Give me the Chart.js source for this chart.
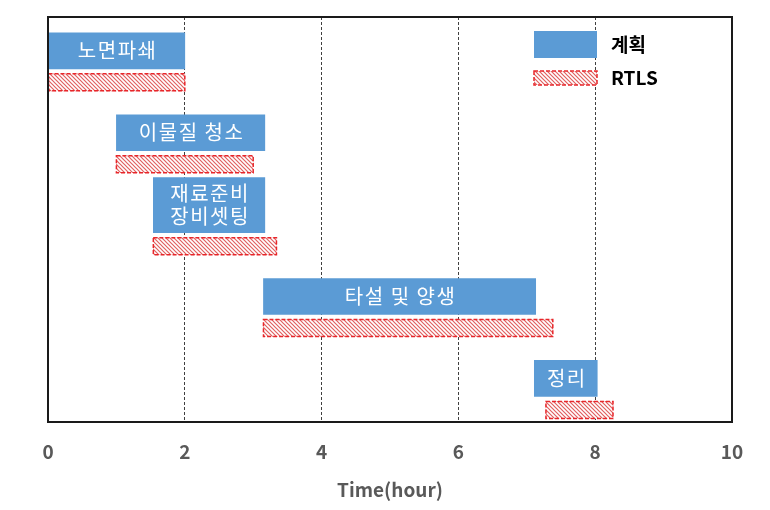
<!DOCTYPE html>
<html><head><meta charset="utf-8">
<script src="https://cdn.jsdelivr.net/npm/chart.js@4/dist/chart.umd.min.js"></script>
<style>html,body{margin:0;padding:0;background:#fff}</style>
</head><body>
<canvas id="c" width="770" height="510"></canvas>
<script>
// ---- data ----
const categories = ['노면파쇄', '이물질 청소', ['재료준비', '장비셋팅'], '타설 및 양생', '정리'];
const planStart = [0, 1, 1.54, 3.15, 7.11];
const planEnd   = [2, 3.17, 3.17, 7.13, 8.03];
const rtlsStart = [0, 1, 1.54, 3.15, 7.28];
const rtlsEnd   = [2, 3.0, 3.34, 7.38, 8.26];
const xMin = 0, xMax = 10, xStep = 2;
const legendLabels = ['계획', 'RTLS'];
const axisTitle = 'Time(hour)';

// ---- styles ----
const FONT = "'Noto Sans CJK KR', 'Noto Sans', sans-serif";
const BLUE = '#5B9BD5';
const RED = '#E8262A';

const canvas = document.getElementById('c');
const ctx0 = canvas.getContext('2d');
function makeHatch(ctx) {
  const c = document.createElement('canvas'); c.width = 4; c.height = 4;
  const g = c.getContext('2d');
  g.fillStyle = '#fff'; g.fillRect(0, 0, 4, 4);
  g.strokeStyle = '#E06060'; g.lineWidth = 1.2;
  g.beginPath();
  g.moveTo(-1, -1); g.lineTo(5, 5);
  g.moveTo(-1, 3); g.lineTo(1, 5);
  g.moveTo(3, -1); g.lineTo(5, 1);
  g.stroke();
  return ctx.createPattern(c, 'repeat');
}
const hatch = makeHatch(ctx0);

const isTall = categories.map(c => Array.isArray(c));
const planData = categories.map((c, i) => ({ y: i, x: isTall[i] ? null : [planStart[i], planEnd[i]] }));
const tallData = categories.map((c, i) => ({ y: i, x: isTall[i] ? [planStart[i], planEnd[i]] : null }));
const rtlsData = categories.map((c, i) => ({ y: i, x: [rtlsStart[i], rtlsEnd[i]] }));

function drawBox(ctx, x, y, w, h, fill, dashed) {
  ctx.save();
  ctx.fillStyle = fill;
  ctx.fillRect(x, y, w, h);
  if (dashed) {
    ctx.setLineDash([4, 2]);
    ctx.lineWidth = 1.5;
    ctx.strokeStyle = RED;
    ctx.strokeRect(x, y, w, h);
  }
  ctx.restore();
}

const decorPlugin = {
  id: 'decor',
  afterDatasetsDraw(chart) {
    const ctx = chart.ctx;
    // dashed outlines for RTLS bars
    const rm = chart.getDatasetMeta(2);
    ctx.save();
    ctx.setLineDash([4, 2]);
    ctx.lineWidth = 1.5;
    ctx.strokeStyle = RED;
    rm.data.forEach((el) => {
      const p = el.getProps(['x', 'y', 'base', 'height'], true);
      if (p.x === p.base) return;
      ctx.strokeRect(Math.min(p.x, p.base), p.y - p.height / 2, Math.abs(p.x - p.base), p.height);
    });
    ctx.restore();
    // labels in plan bars
    ctx.save();
    ctx.fillStyle = '#fff';
    ctx.font = '20px ' + FONT;
    try { ctx.letterSpacing = '1.5px'; } catch (e) {}
    ctx.textAlign = 'center';
    ctx.textBaseline = 'middle';
    [0, 1].forEach(di => {
      chart.getDatasetMeta(di).data.forEach((el, i) => {
        const p = el.getProps(['x', 'y', 'base'], true);
        if (p.x === p.base) return;
        const lines = Array.isArray(categories[i]) ? categories[i] : [categories[i]];
        const lh = 23;
        const cx = (p.x + p.base) / 2 + 1;
        lines.forEach((t, k) => {
          ctx.fillText(t, cx, p.y + (k - (lines.length - 1) / 2) * lh);
        });
      });
    });
    ctx.restore();
  },
  afterDraw(chart) {
    const ctx = chart.ctx;
    const a = chart.chartArea;
    ctx.save();
    ctx.strokeStyle = '#1a1a1a';
    ctx.lineWidth = 2;
    ctx.strokeRect(a.left, a.top, a.right - a.left, a.bottom - a.top);
    ctx.restore();
    // legend
    const lx = a.right - 198, ly = a.top + 14;
    drawBox(ctx, lx, ly, 63, 27, BLUE, false);
    drawBox(ctx, lx, ly + 40, 63, 14, hatch, true);
    ctx.save();
    ctx.fillStyle = '#000';
    ctx.font = 'bold 19px ' + FONT;
    ctx.textAlign = 'left';
    ctx.textBaseline = 'middle';
    ctx.fillText(legendLabels[0], lx + 77, ly + 14);
    ctx.fillText(legendLabels[1], lx + 77, ly + 47);
    ctx.restore();
  }
};

new Chart(canvas, {
  type: 'bar',
  data: {
    datasets: [
      { label: legendLabels[0], data: planData, backgroundColor: BLUE, barThickness: 46, maxBarThickness: 36, skipNull: true },
      { label: legendLabels[0], data: tallData, backgroundColor: BLUE, barThickness: 65, maxBarThickness: 55, skipNull: true },
      { label: legendLabels[1], data: rtlsData, backgroundColor: hatch, barThickness: 17, skipNull: true }
    ]
  },
  options: {
    indexAxis: 'y',
    responsive: false,
    animation: false,
    devicePixelRatio: 1,
    layout: { padding: { left: 48, right: 38, top: 17, bottom: 0 } },
    plugins: { legend: { display: false }, tooltip: { enabled: false } },
    scales: {
      y: {
        type: 'linear', reverse: true, display: false, offset: false,
        min: -0.694, max: 4.251
      },
      x: {
        type: 'linear', min: xMin, max: xMax,
        ticks: { stepSize: xStep, color: '#595959', padding: 18, font: { family: FONT, size: 19, weight: 'bold' } },
        grid: { color: '#404040', lineWidth: 1, drawTicks: false },
        border: { display: false, dash: [3, 2] },
        title: { display: true, text: axisTitle, color: '#595959', font: { family: FONT, size: 19, weight: 'bold' }, padding: { top: 0, bottom: 9 } },
        afterFit(s) { s.height = 88; }
      }
    }
  },
  plugins: [decorPlugin]
});
</script>
</body></html>
